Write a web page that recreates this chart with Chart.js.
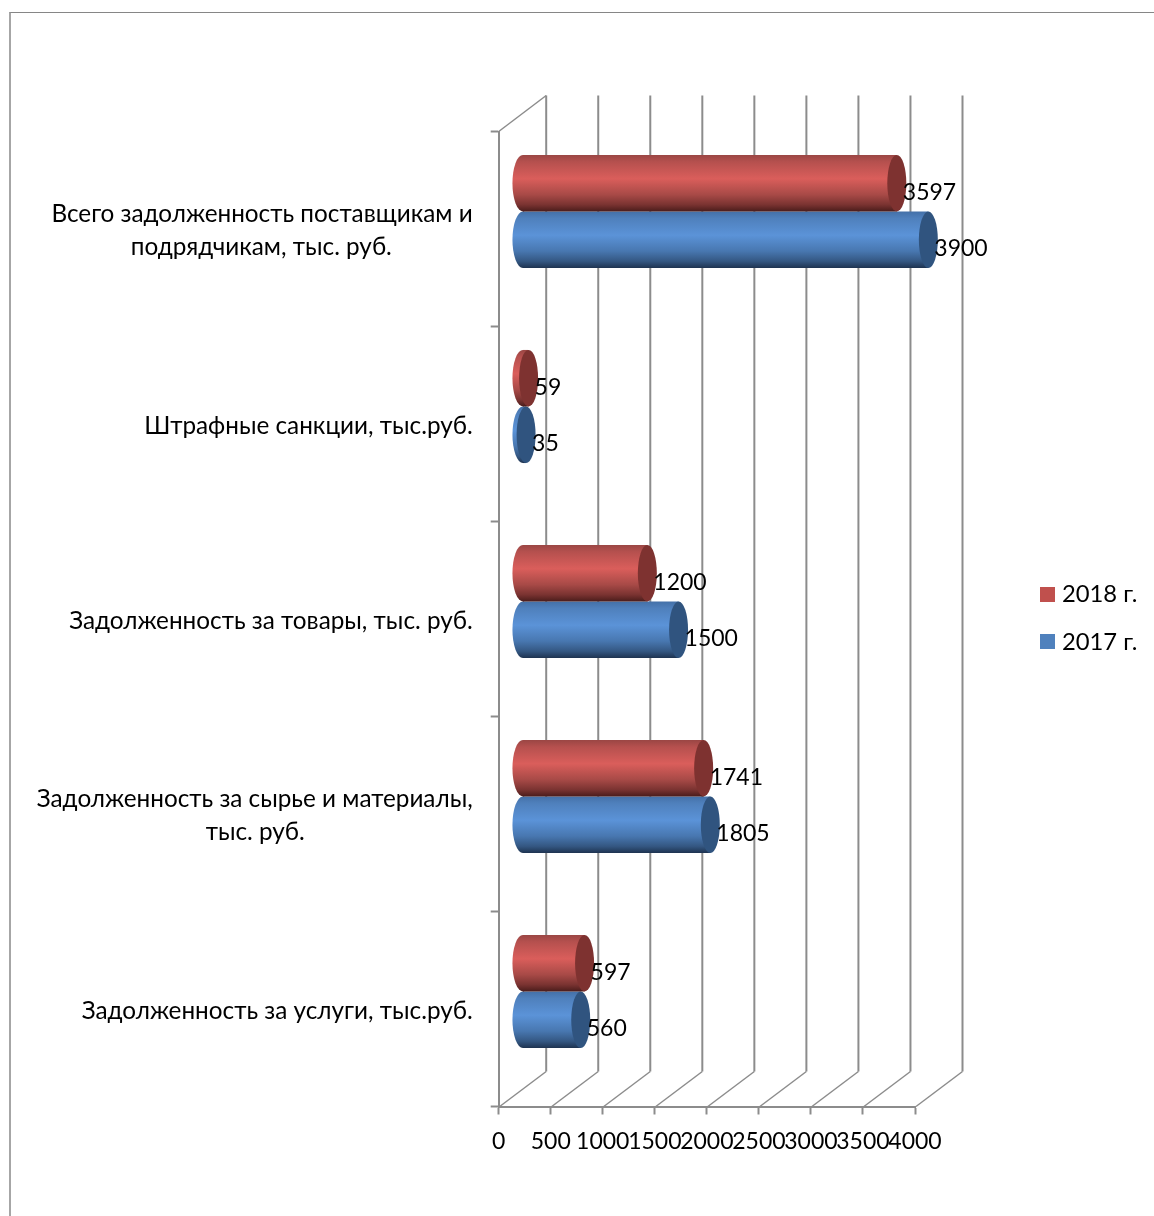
<!DOCTYPE html>
<html lang="ru">
<head>
<meta charset="utf-8">
<title>Задолженность</title>
<style>
  html, body { margin: 0; padding: 0; background: #fff; overflow: hidden; }
  #frame { position: absolute; left: 9px; top: 12px; right: -5px; bottom: -5px; border-left: 2px solid #a6a6a6; border-top: 1px solid #868686; }
  #chart { position: absolute; left: 0; top: 0; }
</style>
</head>
<body>
<div id="frame"></div>
<canvas id="chart" width="1154" height="1216"></canvas>
<script src="https://cdn.jsdelivr.net/npm/chart.js@4/dist/chart.umd.min.js"></script>
<script>
// Данные
const categories = [
  ["Всего задолженность поставщикам и", "подрядчикам, тыс. руб."],
  "Штрафные санкции, тыс.руб.",
  "Задолженность за товары, тыс. руб.",
  ["Задолженность за сырье и материалы,", "тыс. руб."],
  "Задолженность за услуги, тыс.руб."
];
const seriesNames = ["2018 г.", "2017 г."];
const values2018 = [3597, 59, 1200, 1741, 597];
const values2017 = [3900, 35, 1500, 1805, 560];
const axisMax = 4000;
const axisStep = 500;

// Оформление
const FONT_FAMILY = "Lato, 'Open Sans', sans-serif";
const FONT_SIZE = 23;
const LABEL_FONT_SIZE = 24.3;
const LEGEND_FONT_SIZE = 23.8;
const AXIS_COLOR = "#8c8c8c";
const DEPTH_X = 47.5, DEPTH_Y = -35; // глубина псевдо-3D
const CAP_RX = 9.5;
const CATEGORY_PERCENT = 0.58;
const SHADE_STOPS = [0, 0.12, 0.42, 0.7, 0.88, 1];
const PALETTE = [
  { legend: "#C0504D", cap: "#7E3230", shades: ["#9A4644", "#B5504E", "#DA5E5B", "#A84A47", "#7A3331", "#4A1C1B"] },
  { legend: "#4F81BD", cap: "#30547F", shades: ["#4470A8", "#4F80BC", "#5B93D8", "#4877B0", "#345782", "#1E3350"] }
];

// Короткие строки центрируем внутри блока подписи пробелами справа
const measureCtx = document.createElement("canvas").getContext("2d");
measureCtx.font = LABEL_FONT_SIZE + "px " + FONT_FAMILY;
function centerLines(label) {
  if (!Array.isArray(label)) return label;
  const widest = Math.max(...label.map(s => measureCtx.measureText(s).width));
  const space = measureCtx.measureText(" ").width;
  return label.map(s => s + " ".repeat(Math.round((widest - measureCtx.measureText(s).width) / 2 / space)));
}

// Вертикальный градиент цилиндра
function barFill(ctx) {
  const colors = PALETTE[ctx.datasetIndex];
  if (ctx.type !== "data" || !ctx.chart.chartArea) return colors.legend;
  const yScale = ctx.chart.scales.y;
  const barHeight = yScale.height / categories.length * CATEGORY_PERCENT / 2;
  const center = yScale.getPixelForValue(ctx.dataIndex);
  const top = ctx.datasetIndex === 0 ? center - barHeight : center;
  const g = ctx.chart.ctx.createLinearGradient(0, top, 0, top + barHeight);
  SHADE_STOPS.forEach((stop, i) => g.addColorStop(stop, colors.shades[i]));
  return g;
}

function swatch(color) {
  const c = document.createElement("canvas");
  c.width = 15; c.height = 15;
  const x = c.getContext("2d");
  x.fillStyle = color;
  x.fillRect(0, 0, 15, 15);
  return c;
}

const cylinderPlugin = {
  id: "cylinder",
  afterLayout(chart) {
    // легенда стоит в правом поле, правее области графика
    const legend = chart.legend;
    legend.left = 1021;
    legend.right = 1154;
    legend.top = chart.chartArea.top - 1;
    legend.bottom = chart.chartArea.bottom - 1;
  },
  beforeDatasetsDraw(chart) {
    const { ctx, chartArea, scales } = chart;
    ctx.save();
    ctx.strokeStyle = AXIS_COLOR;
    // линии сетки: диагональ по полу и вертикаль на задней стенке
    scales.x.ticks.forEach(tick => {
      const x = scales.x.getPixelForValue(tick.value);
      ctx.lineWidth = 1.5;
      ctx.beginPath();
      ctx.moveTo(x + 1, chartArea.bottom);
      ctx.lineTo(x + DEPTH_X, chartArea.bottom + DEPTH_Y);
      ctx.stroke();
      ctx.lineWidth = 2;
      ctx.beginPath();
      ctx.moveTo(x + DEPTH_X, chartArea.bottom + DEPTH_Y);
      ctx.lineTo(x + DEPTH_X, chartArea.top + DEPTH_Y - 1);
      ctx.stroke();
    });
    // верхний срез боковой стенки
    ctx.lineWidth = 1.5;
    ctx.beginPath();
    ctx.moveTo(chartArea.left, chartArea.top);
    ctx.lineTo(chartArea.left + DEPTH_X, chartArea.top + DEPTH_Y - 1);
    ctx.stroke();
    ctx.restore();
    // столбцы стоят посередине глубины
    ctx.save();
    ctx.translate(DEPTH_X / 2, DEPTH_Y / 2);
  },
  beforeDatasetDraw(chart, args) {
    const { ctx } = chart;
    args.meta.data.forEach(bar => {
      ctx.fillStyle = bar.options.backgroundColor;
      ctx.beginPath();
      ctx.ellipse(bar.base, bar.y, CAP_RX + 1, bar.height / 2, 0, 0, Math.PI * 2);
      ctx.fill();
    });
  },
  afterDatasetDraw(chart, args) {
    const { ctx } = chart;
    ctx.fillStyle = PALETTE[args.index].cap;
    args.meta.data.forEach(bar => {
      ctx.beginPath();
      ctx.ellipse(bar.x, bar.y, CAP_RX, bar.height / 2, 0, 0, Math.PI * 2);
      ctx.fill();
    });
  },
  afterDatasetsDraw(chart) {
    const { ctx } = chart;
    ctx.fillStyle = "#000";
    ctx.font = FONT_SIZE + "px " + FONT_FAMILY;
    ctx.textAlign = "left";
    ctx.textBaseline = "middle";
    // подписи значений
    chart.data.datasets.forEach((ds, i) => {
      chart.getDatasetMeta(i).data.forEach((bar, j) => {
        ctx.fillText(String(ds.data[j]), bar.x + 6, bar.y + 9);
      });
    });
    ctx.restore();
  }
};

new Chart(document.getElementById("chart"), {
  type: "bar",
  data: {
    labels: categories,
    datasets: [
      { label: seriesNames[0], data: values2018, backgroundColor: barFill, clip: false },
      { label: seriesNames[1], data: values2017, backgroundColor: barFill, clip: false }
    ]
  },
  options: {
    indexAxis: "y",
    responsive: false,
    animation: false,
    events: [],
    categoryPercentage: CATEGORY_PERCENT,
    barPercentage: 1,
    layout: { padding: { top: 131.5, right: 239, left: 0, bottom: 0 } },
    font: { family: FONT_FAMILY, size: FONT_SIZE },
    scales: {
      x: {
        min: 0,
        max: axisMax,
        afterFit: s => { s.height = 109.5; },
        grid: { drawOnChartArea: false, color: AXIS_COLOR, tickColor: AXIS_COLOR, tickLength: 8, tickWidth: 2 },
        border: { color: AXIS_COLOR, width: 2 },
        ticks: {
          stepSize: axisStep,
          autoSkip: false,
          maxRotation: 0,
          padding: 13,
          color: "#000",
          font: { family: FONT_FAMILY, size: FONT_SIZE },
          callback: value => String(value)
        }
      },
      y: {
        afterFit: s => { s.width = 498.7; },
        grid: { drawOnChartArea: false, color: AXIS_COLOR, tickColor: AXIS_COLOR, tickLength: 8, tickWidth: 2 },
        border: { color: AXIS_COLOR, width: 2 },
        ticks: {
          padding: 18,
          labelOffset: 2,
          color: "#000",
          autoSkip: false,
          font: { family: FONT_FAMILY, size: LABEL_FONT_SIZE, lineHeight: "33px" },
          callback(value) { return centerLines(categories[value]); }
        }
      }
    },
    plugins: {
      tooltip: { enabled: false },
      legend: {
        position: "chartArea",
        labels: {
          usePointStyle: true,
          pointStyleWidth: 5,
          padding: 24,
          color: "#000",
          font: { family: FONT_FAMILY, size: LEGEND_FONT_SIZE },
          generateLabels: () => seriesNames.map((name, i) => ({
            text: name,
            fontColor: "#000",
            pointStyle: swatch(PALETTE[i].legend),
            datasetIndex: i
          }))
        }
      }
    }
  },
  plugins: [cylinderPlugin]
});
</script>
</body>
</html>
